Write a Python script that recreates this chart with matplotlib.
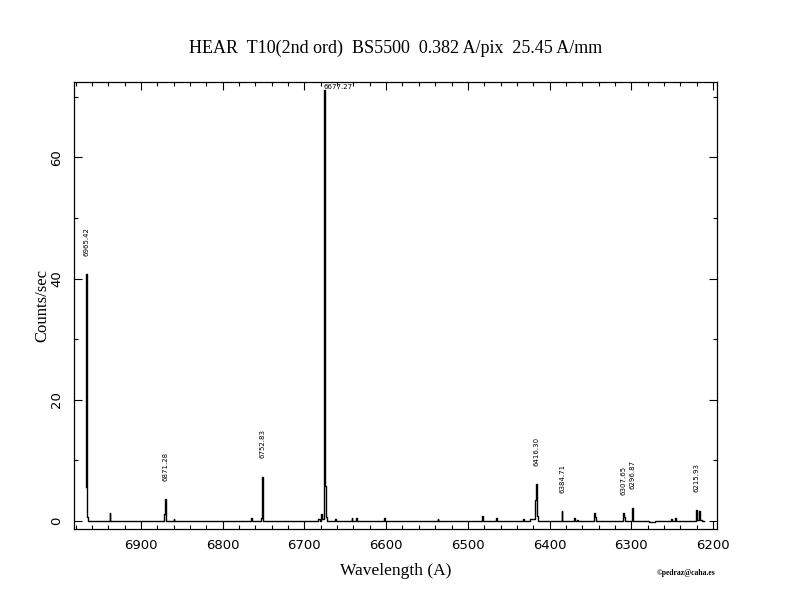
import matplotlib
matplotlib.use("Agg")
import matplotlib.pyplot as plt
from matplotlib.ticker import MultipleLocator

# ---- data (wavelength in A, counts/sec) ----
wave = [6967.2, 6966.3, 6965.3, 6964.7, 6940.0, 6938.6, 6937.8, 6937.0,
        6872.0, 6871.1, 6870.1, 6869.2, 6860.3, 6859.4, 6858.5,
        6765.2, 6764.3, 6763.4, 6753.5, 6752.6, 6750.8, 6749.8,
        6684.0, 6682.5, 6680.5, 6679.1, 6677.4, 6675.8, 6674.6, 6673.3, 6672.0,
        6663.2, 6662.3, 6661.4, 6642.8, 6641.9, 6641.0, 6637.5, 6636.6, 6635.7,
        6603.2, 6602.3, 6601.4, 6537.5, 6536.6, 6535.7,
        6482.6, 6481.7, 6480.8, 6466.1, 6465.2, 6464.3,
        6432.4, 6431.5, 6430.6, 6418.0, 6416.9, 6415.6, 6414.4, 6413.2,
        6385.7, 6384.8, 6383.9, 6370.6, 6369.7, 6368.8, 6365.2, 6364.3,
        6345.8, 6344.9, 6343.4, 6342.2, 6330.0, 6325.0, 6318.0,
        6310.3, 6309.4, 6308.1, 6307.0, 6303.0, 6300.0, 6299.1, 6298.2, 6297.3,
        6290.0, 6282.0, 6275.0, 6268.0, 6260.0, 6252.2, 6251.3, 6250.4,
        6247.0, 6246.1, 6245.2, 6235.0, 6228.0, 6221.0, 6220.1, 6218.5,
        6216.7, 6215.4, 6212.0, 6210.5]
counts = [5.6, 40.8, 0.6, 0.05, 0.05, 0.05, 1.3, 0.05,
          0.05, 1.2, 3.6, 0.05, 0.05, 0.3, 0.05,
          0.05, 0.4, 0.05, 0.05, 0.5, 7.3, 0.05,
          0.05, 0.3, 0.05, 1.1, 0.3, 71.1, 5.7, 0.7, 0.05,
          0.05, 0.25, 0.05, 0.05, 0.5, 0.05, 0.05, 0.4, 0.05,
          0.05, 0.5, 0.05, 0.05, 0.35, 0.05,
          0.05, 0.8, 0.05, 0.05, 0.4, 0.05,
          0.05, 0.25, 0.05, 0.3, 3.45, 6.1, 0.8, 0.05,
          0.05, 1.65, 0.05, 0.05, 0.4, 0.05, 0.2, 0.05,
          0.05, 1.25, 0.6, 0.05, -0.1, 0.0, -0.1,
          0.05, 1.25, 0.6, 0.05, -0.1, 0.05, 2.2, 2.2, 0.05,
          -0.1, 0.0, -0.15, 0.0, -0.1, 0.05, 0.35, 0.05,
          0.05, 0.5, 0.05, 0.0, 0.05, 0.05, 1.8, 0.1,
          1.6, 0.2, 0.05, 0.05]

line_labels = ["6965.42", "6871.28", "6752.83", "6416.30", "6384.71",
               "6307.65", "6296.87", "6215.93"]
label_wave = [6966.3, 6870.1, 6750.8, 6415.6, 6384.8, 6309.4, 6298.7, 6220.1]
label_peak = [40.8, 3.6, 7.3, 6.1, 1.65, 1.25, 2.2, 1.8]
top_label = "6677.27"
top_label_wave = 6676.6
top_label_y = 71.1

title = "HEAR  T10(2nd ord)  BS5500  0.382 A/pix  25.45 A/mm"

fig = plt.figure(figsize=(7.92, 6.12), dpi=100)
ax = fig.add_axes([0.0938, 0.1351, 0.905 - 0.0938, 0.8665 - 0.1351])

ax.plot(wave, counts, color="black", lw=1.0, drawstyle="steps-mid")

ax.set_xlim(6981.5, 6195.5)
ax.set_ylim(-1.4, 72.5)

ax.xaxis.set_major_locator(MultipleLocator(100))
ax.xaxis.set_minor_locator(MultipleLocator(20))
ax.yaxis.set_major_locator(MultipleLocator(20))
ax.yaxis.set_minor_locator(MultipleLocator(10))

ax.tick_params(which="both", direction="in", top=True, right=True,
               width=0.8, colors="black")
ax.tick_params(which="major", length=5.5)
ax.tick_params(which="minor", length=3)
ax.tick_params(axis="x", which="major", pad=7, labelsize=9.5)
ax.tick_params(axis="y", which="major", pad=8, labelsize=9.5)
for lab in ax.get_yticklabels():
    lab.set_rotation(90)
    lab.set_va("center")
for s in ax.spines.values():
    s.set_linewidth(0.9)

for w, p, t in zip(label_wave, label_peak, line_labels):
    ax.text(w, p + 3.0, t, rotation=90, ha="center", va="bottom",
            fontsize=5, color="black")
ax.text(top_label_wave, top_label_y, top_label, ha="left", va="bottom",
        fontsize=5, color="black")

fig.text(396 / 792, 1 - 48 / 612, title, ha="center", va="center",
         family="Liberation Serif", fontsize=13)
fig.text(396 / 792, 1 - 571 / 612, "Wavelength (A)", ha="center", va="center",
         family="Liberation Serif", fontsize=12.5)
fig.text(42 / 792, 1 - 305 / 612, "Counts/sec", ha="center", va="center",
         rotation=90, family="Liberation Serif", fontsize=12)
fig.text(686 / 792, 1 - 573 / 612, "\u00a9pedraz@caha.es", ha="center",
         va="center", family="Liberation Serif", fontsize=5.5,
         fontweight="bold")

fig.savefig("out.png", dpi=100, facecolor="white")
